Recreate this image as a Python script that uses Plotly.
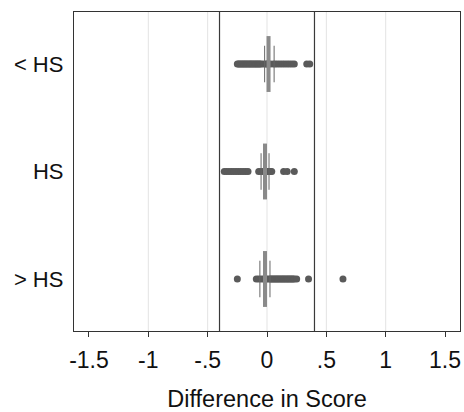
import plotly.graph_objects as go

# ---------------- data ----------------
categories = ["< HS", "HS", "> HS"]

diff_lt_hs = [-0.25, -0.24, -0.23, -0.22, -0.21, -0.20, -0.19, -0.18, -0.17, -0.16,
              -0.15, -0.14, -0.13, -0.12, -0.11, -0.10, -0.09, -0.08, -0.07, -0.06,
              -0.05, -0.03, -0.01, 0.0, 0.01, 0.03, 0.055, 0.07, 0.09, 0.11, 0.13,
              0.15, 0.17, 0.19, 0.21, 0.23, 0.335, 0.36]
diff_hs = [-0.36, -0.34, -0.32, -0.30, -0.28, -0.26, -0.24, -0.22, -0.20, -0.18,
           -0.16, -0.07, -0.05, -0.03, -0.01, 0.0, 0.01, 0.03, 0.04, 0.14, 0.17, 0.23]
diff_gt_hs = [-0.25, -0.09, -0.07, -0.05, -0.03, -0.01, 0.0, 0.02, 0.03, 0.04, 0.05,
              0.06, 0.07, 0.08, 0.09, 0.10, 0.11, 0.12, 0.13, 0.14, 0.15, 0.16, 0.17,
              0.18, 0.19, 0.20, 0.21, 0.22, 0.23, 0.25, 0.35, 0.64]
series = [diff_lt_hs, diff_hs, diff_gt_hs]

q1_values = [-0.02, -0.05, -0.06]
median_values = [0.013, -0.017, -0.017]
q3_values = [0.06, 0.017, 0.025]

x_tick_vals = [-1.5, -1.0, -0.5, 0.0, 0.5, 1.0, 1.5]
x_tick_text = ["-1.5", "-1", "-.5", "0", ".5", "1", "1.5"]
grid_vals = [-1.0, -0.5, 0.0, 0.5, 1.0]
ref_lines = [-0.4, 0.4]

# ---------------- figure ----------------
FONT = "Liberation Sans, Arial, sans-serif"
DOT = "#5a5a5a"

fig = go.Figure()

for v in grid_vals:
    fig.add_vline(x=v, line=dict(color="#e3e3e3", width=1), layer="below")

for i, vals in enumerate(series):
    fig.add_trace(go.Scatter(
        x=vals, y=[i] * len(vals), mode="markers",
        marker=dict(color=DOT, size=7, line=dict(width=0)),
        showlegend=False, hoverinfo="x"))

# box edges (thin) and medians (thick)
thin_h, thick_h = 0.17, 0.26
bx, by = [], []
for i in range(len(categories)):
    for q in (q1_values[i], q3_values[i]):
        bx += [q, q, None]
        by += [i - thin_h, i + thin_h, None]
fig.add_trace(go.Scatter(x=bx, y=by, mode="lines",
                         line=dict(color="#666666", width=1),
                         showlegend=False, hoverinfo="skip"))
mx, my = [], []
for i in range(len(categories)):
    mx += [median_values[i], median_values[i], None]
    my += [i - thick_h, i + thick_h, None]
fig.add_trace(go.Scatter(x=mx, y=my, mode="lines",
                         line=dict(color="#8a8a8a", width=4),
                         showlegend=False, hoverinfo="skip"))

for v in ref_lines:
    fig.add_vline(x=v, line=dict(color="#3a3a3a", width=1.2), layer="above")

fig.update_layout(
    width=464, height=412,
    margin=dict(l=74, r=4, t=12, b=81),
    paper_bgcolor="white", plot_bgcolor="white",
    font=dict(family=FONT, size=23, color="#111111"),
    xaxis=dict(range=[-1.626, 1.626], tickvals=x_tick_vals, ticktext=x_tick_text,
               showgrid=False, zeroline=False, ticks="outside", ticklen=5,
               tickcolor="#333333", showline=True, linecolor="#333333",
               linewidth=1.3, mirror=True, ticklabelstandoff=3, automargin=False,
               tickfont=dict(size=23),
               title=dict(text="Difference in Score", standoff=19,
                          font=dict(size=23.5))),
    yaxis=dict(range=[2.484, -0.484], tickvals=[0, 1, 2], ticktext=categories,
               showgrid=False, zeroline=False, ticks="", showline=True,
               linecolor="#333333", linewidth=1.3, mirror=True,
               tickfont=dict(size=22),
               ticklabelstandoff=5, automargin=False),
)

# remove the default 8px page margin so the 464x412 figure fills the window
fig.write_html("out.html",
               config={"displayModeBar": False},
               post_script="document.body.style.margin='0';"
                           "document.body.style.overflow='hidden';")
